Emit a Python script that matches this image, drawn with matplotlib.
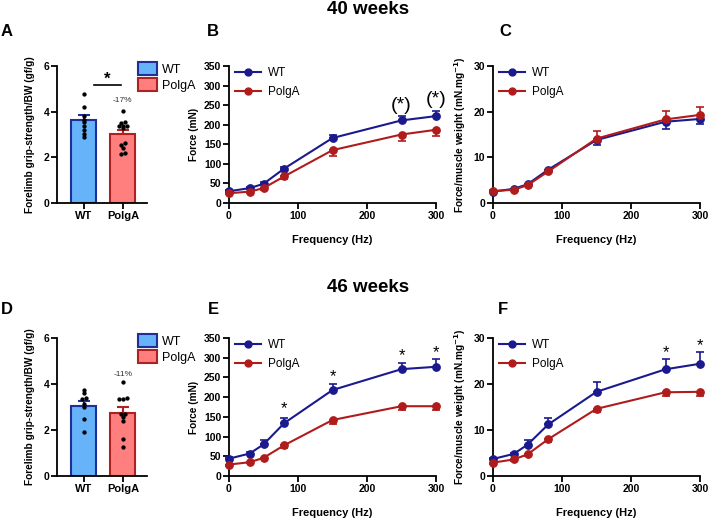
import numpy as np
import matplotlib
matplotlib.use('Agg')
import matplotlib.pyplot as plt
from matplotlib.patches import Patch
from matplotlib.lines import Line2D

plt.rcParams['font.family'] = ['Liberation Sans', 'DejaVu Sans']

# ---- data ----
groups = ['WT', 'PolgA']
freq = [0, 30, 50, 80, 150, 250, 300]

# grip strength, 40 weeks
grip40_wt = [4.79, 4.21, 3.81, 3.65, 3.55, 3.38, 3.20, 3.03, 2.88]
grip40_polga = [4.03, 3.52, 3.54, 3.38, 3.36, 3.38, 3.28, 2.61, 2.56, 2.39, 2.15, 2.21]
grip40_mean = [3.64, 3.01]
grip40_sem = [0.20, 0.19]

# grip strength, 46 weeks
grip46_wt = [3.73, 3.60, 3.40, 3.35, 3.15, 3.00, 2.46, 1.91]
grip46_polga = [4.08, 3.38, 3.35, 3.36, 2.70, 2.68, 2.55, 2.40, 1.62, 1.28]
grip46_mean = [3.04, 2.72]
grip46_sem = [0.22, 0.28]

# absolute force (mN), 40 weeks
force40_wt = [30, 38, 49, 88, 166, 211, 222]
force40_wt_sem = [3, 3, 4, 4, 8, 11, 13]
force40_polga = [25, 29, 38, 68, 135, 175, 187]
force40_polga_sem = [3, 3, 4, 6, 16, 16, 17]

# specific force (mN/mg), 40 weeks
spec40_wt = [2.5, 3.1, 4.1, 7.3, 13.8, 17.8, 18.4]
spec40_wt_sem = [0.2, 0.2, 0.3, 0.4, 1.0, 1.5, 1.1]
spec40_polga = [2.6, 2.9, 3.9, 6.9, 14.1, 18.3, 19.3]
spec40_polga_sem = [0.2, 0.2, 0.3, 0.4, 1.7, 1.8, 1.8]

# absolute force (mN), 46 weeks
force46_wt = [44, 57, 80, 134, 218, 271, 277]
force46_wt_sem = [4, 4, 11, 13, 16, 16, 20]
force46_polga = [29, 35, 46, 78, 142, 177, 177]
force46_polga_sem = [4, 3, 4, 7, 9, 10, 10]

# specific force (mN/mg), 46 weeks
spec46_wt = [3.7, 4.8, 6.8, 11.2, 18.3, 23.2, 24.4]
spec46_wt_sem = [0.3, 0.3, 1.0, 1.5, 2.2, 2.2, 2.5]
spec46_polga = [2.9, 3.6, 4.7, 8.0, 14.6, 18.2, 18.3]
spec46_polga_sem = [0.3, 0.4, 0.3, 0.6, 0.7, 0.7, 0.8]

# ---- styles ----
BAR_FILL = ['#66B3FA', '#FF7F7F']
BAR_EDGE = ['#1E2F9A', '#B02020']
LINE_C = ['#1A1A8E', '#B01C1C']
TICK_FS = 7.5
LAB_FS = 7.3

W, H = 709, 518
fig = plt.figure(figsize=(W / 100, H / 100), dpi=100)


def px_axes(x0, y0, x1, y1):
    # pixel box (left, top, right, bottom) -> figure axes
    return fig.add_axes([x0 / W, 1 - y1 / H, (x1 - x0) / W, (y1 - y0) / H])


def style_axes(ax):
    for s in ['top', 'right']:
        ax.spines[s].set_visible(False)
    for s in ['left', 'bottom']:
        ax.spines[s].set_linewidth(1.3)
    ax.tick_params(width=1.3, length=4, labelsize=TICK_FS, pad=1.5)
    for lab in ax.get_xticklabels() + ax.get_yticklabels():
        lab.set_fontweight('bold')


def swarm_offsets(vals, tol=0.07, step=0.1):
    # spread dots with similar values side by side
    vals = np.asarray(vals)
    order = np.argsort(vals)
    offs = np.zeros(len(vals))
    i = 0
    while i < len(order):
        j = i
        while j + 1 < len(order) and vals[order[j + 1]] - vals[order[i]] < tol:
            j += 1
        n = j - i + 1
        pos = (np.arange(n) - (n - 1) / 2) * step
        offs[order[i:j + 1]] = pos
        i = j + 1
    return offs


def bar_panel(ax, dots, means, sems, pct, pct_y, star=False):
    x = np.arange(2)
    for i in range(2):
        ax.bar(x[i], means[i], width=0.64, color=BAR_FILL[i], edgecolor=BAR_EDGE[i],
               linewidth=1.5, zorder=2)
        ax.errorbar(x[i], means[i], yerr=[[0], [sems[i]]], color=BAR_EDGE[i],
                    capsize=4, elinewidth=1.5, capthick=1.5, zorder=3)
        d = np.asarray(dots[i])
        ax.plot(x[i] + swarm_offsets(d), d, 'o', color='black', ms=2.1, zorder=4)
    ax.text(1, pct_y, pct, ha='center', va='center', fontsize=6, color='#333333')
    if star:
        ax.plot([0.25, 0.95], [5.18, 5.18], color='black', lw=1.2)
        ax.text(0.6, 5.42, '*', ha='center', va='center', fontsize=12, fontweight='bold')
    ax.set_xlim(-0.69, 1.62)
    ax.set_ylim(0, 6)
    ax.set_yticks([0, 2, 4, 6])
    ax.set_xticks(x)
    ax.set_xticklabels(groups)
    ax.set_ylabel('Forelimb grip-strength/BW (gf/g)', fontsize=LAB_FS, fontweight='bold', labelpad=6)
    style_axes(ax)
    for lab in ax.get_xticklabels():
        lab.set_fontsize(8)
    handles = [Patch(facecolor=BAR_FILL[i], edgecolor=BAR_EDGE[i], linewidth=1.5) for i in range(2)]
    ax.legend(handles, groups, loc='upper left', bbox_to_anchor=(0.9, 1.03), frameon=False,
              fontsize=9, handlelength=1.5, handleheight=1.25, handletextpad=0.4,
              labelspacing=0.2, borderaxespad=0, borderpad=0)


def line_panel(ax, wt, wt_sem, pg, pg_sem, ymax, ystep, ylabel, wt_up=True, stars=None):
    series = [(wt, wt_sem), (pg, pg_sem)]
    for i, (m, s) in enumerate(series):
        up = wt_up if i == 0 else not wt_up
        s = np.asarray(s)
        err = [np.zeros_like(s), s] if up else [s, np.zeros_like(s)]
        ax.errorbar(freq, m, yerr=err, fmt='none', ecolor=LINE_C[i], elinewidth=1.2,
                    capsize=3, capthick=1.2, zorder=2, clip_on=False)
        ax.plot(freq, m, '-o', color=LINE_C[i], lw=1.5, ms=5.3, zorder=3, clip_on=False)
    if stars:
        for xs, ys, txt, fs in stars:
            ax.text(xs, ys, txt, ha='center', va='center', fontsize=fs)
    ax.set_xlim(0, 300)
    ax.set_ylim(0, ymax)
    ax.set_xticks([0, 100, 200, 300])
    ax.set_yticks(np.arange(0, ymax + 1, ystep))
    ax.set_xlabel('Frequency (Hz)', fontsize=8, fontweight='bold', labelpad=10)
    ax.set_ylabel(ylabel, fontsize=LAB_FS, fontweight='bold', labelpad=4)
    style_axes(ax)
    handles = [Line2D([], [], color=LINE_C[i], marker='o', lw=1.5, ms=5) for i in range(2)]
    ax.legend(handles, groups, loc='upper left', bbox_to_anchor=(0.03, 0.99), frameon=False,
              fontsize=8.5, handlelength=2.2, handletextpad=0.6, labelspacing=0.55,
              borderaxespad=0, borderpad=0)


spec_label = 'Force/muscle weight (mN.mg$^{\\mathbf{-1}}$)'

# ---- top row: 40 weeks ----
axA = px_axes(57, 66, 147, 203)
bar_panel(axA, [grip40_wt, grip40_polga], grip40_mean, grip40_sem, '-17%', 4.47, star=True)

axB = px_axes(229, 66, 436, 203)
line_panel(axB, force40_wt, force40_wt_sem, force40_polga, force40_polga_sem, 350, 50, 'Force (mN)',
           stars=[(250, 250, '(*)', 14), (300, 265, '(*)', 14)])

axC = px_axes(493, 66, 700, 203)
line_panel(axC, spec40_wt, spec40_wt_sem, spec40_polga, spec40_polga_sem, 30, 10, spec_label,
           wt_up=False)

# ---- bottom row: 46 weeks ----
axD = px_axes(57, 338, 147, 476)
bar_panel(axD, [grip46_wt, grip46_polga], grip46_mean, grip46_sem, '-11%', 4.42)

axE = px_axes(229, 338, 436, 476)
line_panel(axE, force46_wt, force46_wt_sem, force46_polga, force46_polga_sem, 350, 50, 'Force (mN)',
           stars=[(80, 172, '*', 12), (150, 252, '*', 12), (250, 306, '*', 12), (300, 312, '*', 12)])

axF = px_axes(493, 338, 700, 476)
line_panel(axF, spec46_wt, spec46_wt_sem, spec46_polga, spec46_polga_sem, 30, 10, spec_label,
           stars=[(250, 26.9, '*', 12), (300, 28.3, '*', 12)])

# ---- titles and panel letters ----
fig.text(368 / W, 1 - 10 / H, '40 weeks', ha='center', va='center', fontsize=13.5, fontweight='bold')
fig.text(368 / W, 1 - 288 / H, '46 weeks', ha='center', va='center', fontsize=13.5, fontweight='bold')
for letter, (lx, ly) in zip('ABCDEF', [(7, 31), (213, 31), (505, 31), (7, 310), (213, 310), (503, 310)]):
    fig.text(lx / W, 1 - ly / H, letter, ha='center', va='center', fontsize=12, fontweight='bold')

fig.savefig('out.png', dpi=100)
